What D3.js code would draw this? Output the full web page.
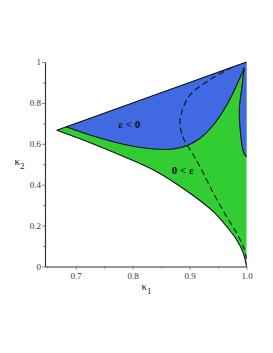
<!DOCTYPE html>
<html>
<head>
<meta charset="utf-8">
<script src="https://cdn.jsdelivr.net/npm/d3@7"></script>
<style>
html,body{margin:0;padding:0;background:#fff;}
svg{display:block;}
</style>
</head>
<body>
<svg id="chart" width="273" height="353"></svg>
<script>
// ---- data (kappa1, kappa2) ----
const topLine = [[2/3, 2/3], [1, 1]];
const lowerBoundary = [
  [0.6667, 0.6667], [0.7133, 0.6186], [0.7778, 0.545], [0.8423, 0.4636],
  [0.9008, 0.358], [0.9418, 0.268], [0.9653, 0.1946], [0.9829, 0.1296],
  [0.9945, 0.0645], [1.0, 0.0]
];
const splitCurve = [
  [0.683, 0.683], [0.7251, 0.643], [0.7836, 0.5976], [0.8363, 0.5746],
  [0.8715, 0.5746], [0.895, 0.5907], [0.9184, 0.6269], [0.9418, 0.692],
  [0.9653, 0.7897], [0.9829, 0.8875], [0.9945, 0.961], [0.9957, 0.972]
];
const rightCurve = [
  [0.9957, 0.972], [0.9917, 0.871], [0.9875, 0.7736], [0.9887, 0.6758],
  [0.9945, 0.5614], [1.0, 0.5355]
];
const dashedCurve = [
  [0.975, 0.975], [0.9302, 0.9037], [0.9008, 0.8386], [0.8862, 0.757],
  [0.8833, 0.692], [0.8891, 0.6269], [0.9067, 0.5452], [0.9184, 0.488],
  [0.9418, 0.358], [0.9653, 0.2435], [0.9829, 0.1623], [0.9945, 0.0968],
  [1.0, 0.04]
];
const xTicks = [0.7, 0.8, 0.9, 1.0];
const xTickLabels = ["0.7", "0.8", "0.9", "1.0"];
const xMinorTicks = [0.65, 0.75, 0.85, 0.95];
const yTicks = [0, 0.2, 0.4, 0.6, 0.8, 1];
const yTickLabels = ["0", "0.2", "0.4", "0.6", "0.8", "1"];
const yMinorTicks = [0.1, 0.3, 0.5, 0.7, 0.9];
const regionLabels = [
  {text: "ε < 0", x: 0.794, y: 0.678},
  {text: "0 < ε", x: 0.888, y: 0.45}
];

// ---- scales ----
const x = d3.scaleLinear().domain([0.646, 1.0]).range([45, 246.5]);
const y = d3.scaleLinear().domain([0, 1]).range([266.5, 62]);

const svg = d3.select("#chart");
const smooth = d3.line().x(d => x(d[0])).y(d => y(d[1])).curve(d3.curveCatmullRom.alpha(0.5));
const straight = d3.line().x(d => x(d[0])).y(d => y(d[1]));
const join = (...paths) => paths.map((p, i) => i === 0 ? p : p.replace(/^M/, "L")).join("") + "Z";

const blue = "#4169e1", green = "#32cd32";

// green: full region
svg.append("path")
  .attr("d", join(
    straight(topLine),
    straight([[1, 1], [1, 0]]),
    smooth(lowerBoundary.slice().reverse())
  ))
  .attr("fill", green);

// blue region
const p0 = splitCurve[0];
svg.append("path")
  .attr("d", join(
    straight([p0, [1, 1]]),
    straight([[1, 1], rightCurve[rightCurve.length - 1]]),
    smooth(rightCurve.slice().reverse()),
    smooth(splitCurve.slice().reverse())
  ))
  .attr("fill", blue);

// boundary lines
const lineStyle = sel => sel.attr("fill", "none").attr("stroke", "#111").attr("stroke-width", 1.1);
svg.append("path").attr("d", straight(topLine)).call(lineStyle);
svg.append("path").attr("d", smooth(lowerBoundary)).call(lineStyle);
svg.append("path").attr("d", smooth(splitCurve)).call(lineStyle);
svg.append("path").attr("d", smooth(rightCurve)).call(lineStyle);
svg.append("path").attr("d", smooth(dashedCurve)).call(lineStyle)
  .attr("stroke-dasharray", "6,3.5");

// region labels
svg.selectAll("text.region").data(regionLabels).enter().append("text")
  .attr("class", "region")
  .attr("x", d => x(d.x)).attr("y", d => y(d.y))
  .attr("text-anchor", "middle")
  .attr("font-family", "Liberation Serif, serif")
  .attr("font-weight", "bold")
  .attr("font-size", 11)
  .attr("fill", "#111")
  .text(d => d.text);

// axes
const axisColor = "#333";
const xAxis = svg.append("g").attr("transform", `translate(0,${y(0)})`)
  .call(d3.axisBottom(x).tickValues(xTicks).tickFormat((d, i) => xTickLabels[i]).tickSize(3).tickSizeOuter(0));
const xMinor = svg.append("g").attr("transform", `translate(0,${y(0)})`)
  .call(d3.axisBottom(x).tickValues(xMinorTicks).tickFormat("").tickSize(2).tickSizeOuter(0));
const yAxis = svg.append("g").attr("transform", `translate(${x.range()[0]},0)`)
  .call(d3.axisLeft(y).tickValues(yTicks).tickFormat((d, i) => yTickLabels[i]).tickSize(3).tickSizeOuter(0));
const yMinor = svg.append("g").attr("transform", `translate(${x.range()[0]},0)`)
  .call(d3.axisLeft(y).tickValues(yMinorTicks).tickFormat("").tickSize(2).tickSizeOuter(0));

[xAxis, yAxis, xMinor, yMinor].forEach(g => {
  g.select(".domain").attr("stroke", axisColor).attr("stroke-width", 1.2);
  g.selectAll(".tick line").attr("stroke", "#666").attr("stroke-width", 0.8);
  g.selectAll(".tick text").attr("font-family", "Liberation Serif, serif")
    .attr("font-size", 9).attr("fill", "#333");
});
xMinor.select(".domain").remove();
yMinor.select(".domain").remove();
xAxis.selectAll(".tick text").attr("dy", null).attr("y", 12);
yAxis.selectAll(".tick text").attr("x", -4).attr("dy", "0.32em");

// axis titles
const kx = svg.append("text").attr("x", 141.5).attr("y", 290)
  .attr("font-family", "Liberation Serif, serif").attr("font-size", 11).attr("fill", "#222");
kx.append("tspan").text("κ");
kx.append("tspan").attr("dy", 4).attr("font-size", 9).text("1");

const ky = svg.append("text").attr("x", 14.5).attr("y", 165)
  .attr("font-family", "Liberation Serif, serif").attr("font-size", 11).attr("fill", "#222");
ky.append("tspan").text("κ");
ky.append("tspan").attr("dy", 4).attr("font-size", 9).text("2");
</script>
</body>
</html>
